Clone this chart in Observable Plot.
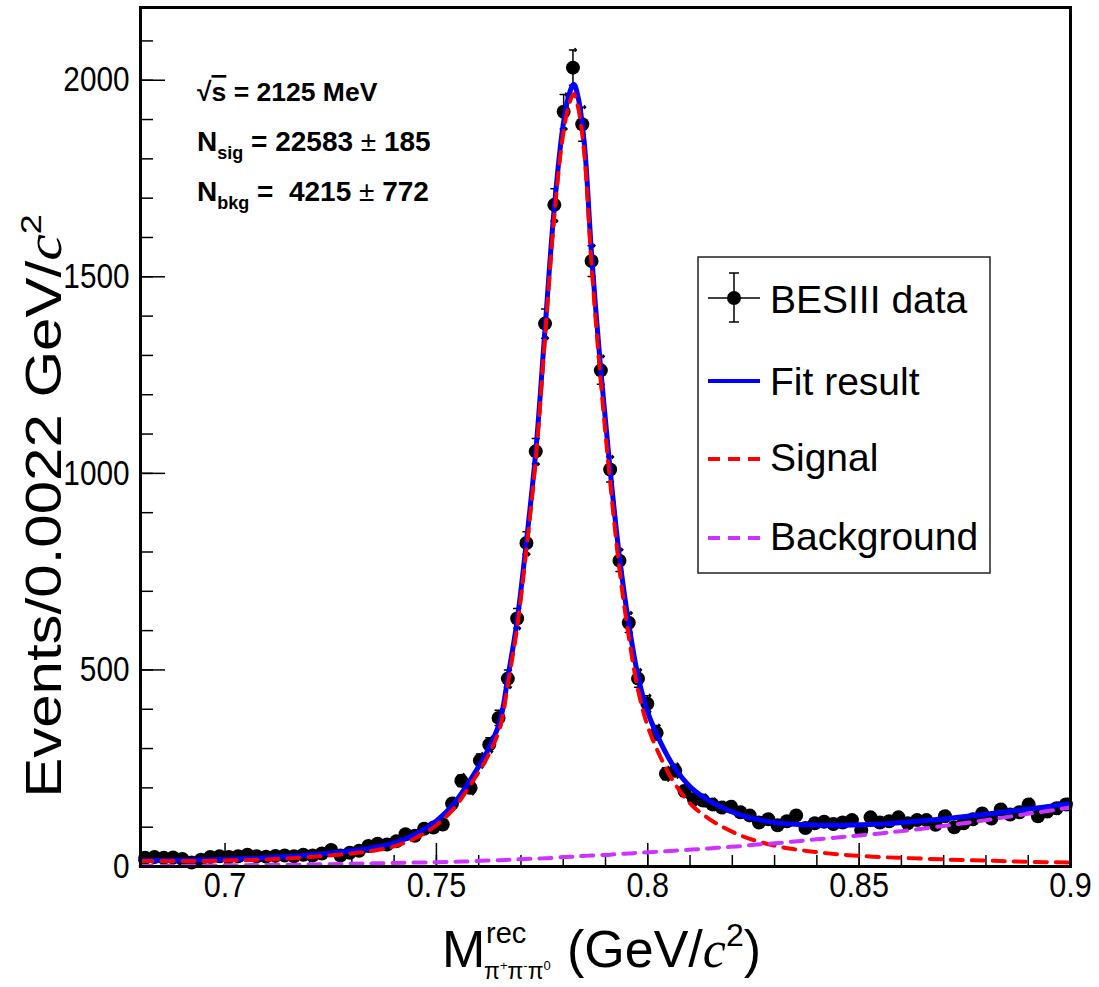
<!DOCTYPE html>
<html><head><meta charset="utf-8">
<script src="https://cdn.jsdelivr.net/npm/d3@7"></script>
<script src="https://cdn.jsdelivr.net/npm/@observablehq/plot@0.6"></script>
<style>
body{margin:0;background:#fff;}
#wrap{position:relative;width:1099px;height:987px;overflow:hidden;}
#wrap svg{position:absolute;left:0;top:0;}
</style></head><body><div id="wrap"></div>
<script>
// ---- data ----
const binLo = 0.68, binWidth = 0.0022;
const counts = [22,24,22,23,19,10,17,24,26,24, 26,30,26,25,27,28,26,30,28,33,
  42,28,35,40,52,58,56,64,82,78, 96,99,107,160,218,200,270,310,378,478,
  631,823,1056,1381,1683,1920,2032,1888,1540,1262, 1010,778,620,478,414,340,236,244,192,172,
  168,158,150,152,138,130,112,120,105,115, 130,98,110,114,108,112,118,92,125,112,
  115,125,110,118,118,106,128,100,110,120, 135,122,145,132,138,158,128,140,148,158];
const fitX = [0.68,0.69,0.70,0.71,0.72,0.73,0.735,0.74,0.745,0.75,0.754,0.758,0.762,0.765,0.767,0.769,0.771,0.7735,0.7757,0.7779,0.780,0.7815,0.7825,0.7835,0.785,0.7867,0.7889,0.7911,0.7933,0.7955,0.7977,0.800,0.8032,0.8063,0.8103,0.8144,0.8182,0.8222,0.826,0.830,0.834,0.838,0.842,0.846,0.850,0.855,0.86,0.87,0.88,0.89,0.90];
const fitTotal = [15,16,18,22,29,40,48,60,82,116,158,220,292,368,488,618,798,1055,1368,1678,1888,1968,1990,1958,1838,1558,1260,1008,788,618,484,392,312,252,200,168,147,130,120,112,108,106,105,105,106,108,112,121,133,146,160];
const fitSignal = [14,14,15,18,24,33,40,51,72,105,146,207,277,352,471,600,779,1035,1347,1656,1864,1943,1965,1932,1811,1530,1231,978,756,585,449,356,274,212,157,122,98,78,64,53,45,39,34,30,27,24,22,18,15,12,10];
const fitBkg = [1,2,3,4,5,7,8,9,10,11,12,13,15,16,17,18,19,20,21,22,24,25,25,26,27,28,29,30,32,33,35,36,38,40,43,46,49,52,56,59,63,67,71,75,79,84,90,103,118,134,150];
const xTicks = [0.7,0.75,0.8,0.85,0.9];
const xTickLabels = ["0.7","0.75","0.8","0.85","0.9"];
const xMinor = [0.68,0.69,0.70,0.71,0.72,0.73,0.74,0.75,0.76,0.77,0.78,0.79,0.80,0.81,0.82,0.83,0.84,0.85,0.86,0.87,0.88,0.89,0.90];
const yTicks = [0,500,1000,1500,2000];
const yTickLabels = ["0","500","1000","1500","2000"];
const yMinor = [0,100,200,300,400,500,600,700,800,900,1000,1100,1200,1300,1400,1500,1600,1700,1800,1900,2000,2100];

const pts = counts.map((c,i)=>({x: binLo + binWidth*(i+0.5), y: c, lo: c - Math.sqrt(c), hi: c + Math.sqrt(c)}));
const fit = fitX.map((x,i)=>({x, total: fitTotal[i], sig: fitSignal[i], bkg: fitBkg[i]}));

const BLUE="#0000ff", RED="#ff0000", MAG="#cc33ff";
const chart = Plot.plot({
  width: 1099, height: 987,
  marginLeft: 140, marginRight: 29, marginTop: 7, marginBottom: 121,
  style: {fontFamily: "'Liberation Sans', Arial, sans-serif", background: "white", color: "black"},
  x: {domain: [0.68, 0.9], label: null},
  y: {domain: [0, 2185], label: null},
  marks: [
    Plot.axisY(yMinor, {tickSize: 13, dx: 13, tickFormat: () => "", strokeWidth: 1.5}),
    Plot.axisY(yTicks, {tickSize: 25, dx: 25, tickFormat: () => "", strokeWidth: 1.5}),
    Plot.axisY(yTicks, {tickSize: 0, tickPadding: 11, fontSize: 35, tickFormat: (d,i) => yTickLabels[i]}),
    Plot.axisX(xMinor, {tickSize: 11, dy: -11, tickFormat: () => "", strokeWidth: 1.5}),
    Plot.axisX(xTicks, {tickSize: 23, dy: -23, tickFormat: () => "", strokeWidth: 1.5}),
    Plot.axisX(xTicks, {tickSize: 0, tickPadding: 5, fontSize: 36, tickFormat: (d,i) => xTickLabels[i]}),
    Plot.ruleX(pts, {x: "x", y1: "lo", y2: "hi", stroke: "black", strokeWidth: 1.5}),
    Plot.vector(pts, {x: "x", y: "hi", length: 7, rotate: 90, anchor: "middle", stroke: "black", strokeWidth: 1.5}),
    Plot.vector(pts, {x: "x", y: "lo", length: 7, rotate: 90, anchor: "middle", stroke: "black", strokeWidth: 1.5}),
    Plot.dot(pts, {x: "x", y: "y", r: 7, fill: "black"}),
    Plot.line(fit, {x: "x", y: "total", stroke: BLUE, strokeWidth: 5, curve: "catmull-rom"}),
    Plot.line(fit, {x: "x", y: "sig", stroke: RED, strokeWidth: 4, strokeDasharray: "12,9", curve: "catmull-rom"}),
    Plot.line(fit, {x: "x", y: "bkg", stroke: MAG, strokeWidth: 4, strokeDasharray: "12,9", curve: "catmull-rom"}),
    Plot.frame({stroke: "black", strokeWidth: 3})
  ]
});
document.getElementById("wrap").appendChild(chart);
// slightly condensed tick labels, as in the reference
chart.querySelectorAll('g[aria-label="x-axis tick label"] text, g[aria-label="y-axis tick label"] text').forEach(t => {
  const tr = t.getAttribute("transform") || "";
  t.setAttribute("transform", tr + " scale(0.85,1)");
});

// overlay: annotations, legend, axis titles
const ns = "http://www.w3.org/2000/svg";
const ov = `
<svg xmlns="${ns}" width="1099" height="987" style="pointer-events:none" font-family="'Liberation Sans', Arial, sans-serif">
  <g font-weight="bold" fill="black">
    <text x="197" y="101" font-size="26.5">√<tspan style="text-decoration:overline">s</tspan> = 2125 MeV</text>
    <text x="197" y="151" font-size="28" xml:space="preserve">N<tspan font-size="18" dy="8">sig</tspan><tspan dy="-8"> = 22583 <tspan font-weight="normal">±</tspan> 185</tspan></text>
    <text x="197" y="201" font-size="28" xml:space="preserve">N<tspan font-size="18" dy="8">bkg</tspan><tspan dy="-8"> =  4215 <tspan font-weight="normal">±</tspan> 772</tspan></text>
  </g>
  <rect x="698" y="257" width="292" height="316" fill="white" stroke="#222" stroke-width="1.5"/>
  <line x1="708" x2="760" y1="298" y2="298" stroke="black" stroke-width="1.5"/>
  <line x1="734" x2="734" y1="273" y2="322" stroke="black" stroke-width="1.5"/>
  <line x1="729" x2="739" y1="273" y2="273" stroke="black" stroke-width="1.5"/>
  <line x1="729" x2="739" y1="322" y2="322" stroke="black" stroke-width="1.5"/>
  <circle cx="734" cy="298" r="7" fill="black"/>
  <line x1="708" x2="760" y1="381" y2="381" stroke="${BLUE}" stroke-width="4"/>
  <line x1="708" x2="760" y1="459" y2="459" stroke="${RED}" stroke-width="4" stroke-dasharray="12,8"/>
  <line x1="708" x2="760" y1="538" y2="538" stroke="${MAG}" stroke-width="4" stroke-dasharray="12,8"/>
  <g font-size="39" fill="black">
    <text x="770" y="313">BESIII data</text>
    <text x="770" y="395">Fit result</text>
    <text x="770" y="471">Signal</text>
    <text x="770" y="550">Background</text>
  </g>
  <g transform="translate(61,506) rotate(-90) scale(1.2,1)" font-size="50">
    <text text-anchor="middle">Events/0.0022 GeV/<tspan font-family="'Liberation Serif', serif" font-style="italic">c</tspan><tspan font-size="30" dy="-20">2</tspan></text>
  </g>
  <g font-size="52">
    <text x="442" y="967">M</text>
    <text x="486" y="943" font-size="29">rec</text>
    <text x="484" y="979" font-size="23">π<tspan font-size="13" dy="-9">+</tspan><tspan dy="9">π</tspan><tspan font-size="13" dy="-9">-</tspan><tspan dy="9">π</tspan><tspan font-size="13" dy="-9">0</tspan></text>
    <text x="567" y="967">(GeV/<tspan font-family="'Liberation Serif', serif" font-style="italic">c</tspan><tspan font-size="32" dy="-21">2</tspan><tspan dy="21">)</tspan></text>
  </g>
</svg>`;
document.getElementById("wrap").insertAdjacentHTML("beforeend", ov);
</script></body></html>
